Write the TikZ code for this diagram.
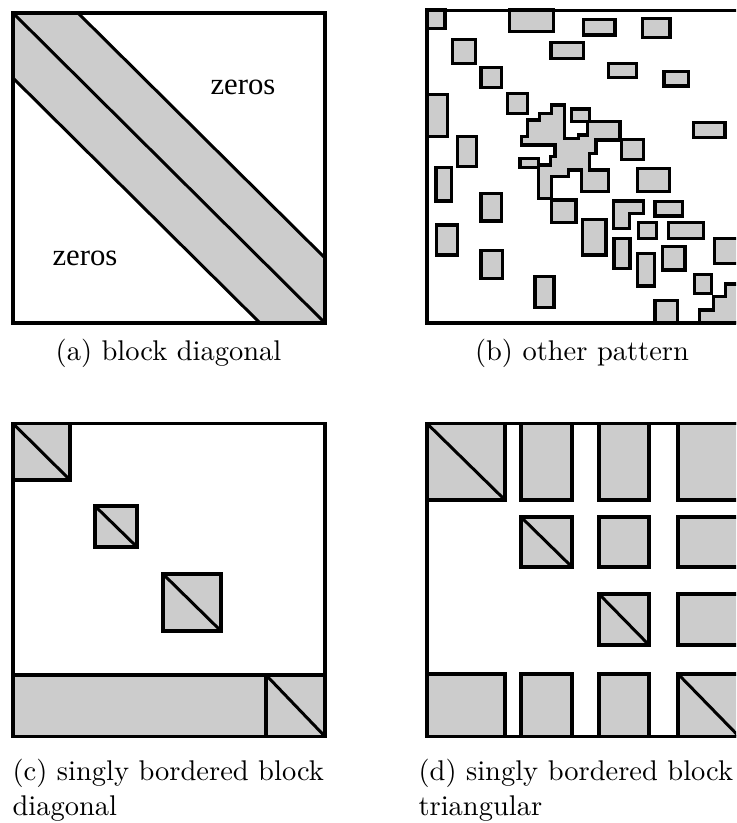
\documentclass[tikz,border=0pt]{standalone}
\usepackage{fontspec}
\newfontfamily\zfont{Liberation Serif}
\begin{document}
\begin{tikzpicture}[x=0.351pt,y=-0.351pt,
  gbox/.style={fill=black!20,draw=black,line width=1.25pt,line join=miter},
  frm/.style={draw=black,line width=1.3pt},
  dline/.style={draw=black,line width=1.05pt},
  captxt/.style={font=\fontsize{10}{12}\selectfont,inner sep=0pt,anchor=base},
  zlab/.style={font=\zfont\fontsize{10.8}{13}\selectfont,inner sep=0pt}]
\useasboundingbox (0,0) rectangle (736,823);
\clip (0,0) rectangle (736,823);

% ---------- (a) block diagonal ----------
\fill[black!20] (13,13) -- (78,13) -- (325,258) -- (325,323) -- (260,323) -- (13,78) -- cycle;
\draw[dline] (78,13) -- (325,258);
\draw[dline] (13,13) -- (325,323);
\draw[dline] (13,78) -- (260,323);
\draw[frm] (13,13) rectangle (325,323);
\node[zlab] (za) at (243,87) {zeros};
\node[zlab] (zb) at (85,258) {zeros};

% ---------- (b) other pattern ----------
\foreach \a/\b/\c/\d in {
  426.7/10/445/28.3, 509.3/10/553.3/31.7, 583.3/19.3/615/35, 642.7/18.3/670/37.3,
  452.3/39.3/475.7/63.3, 551/42.7/583.3/58.3, 608.3/63.3/636.7/77.7, 481/67.3/501.7/87.7,
  664/71.7/688.3/86, 426.7/94.3/447.7/136.7, 507.3/93.3/527.7/113.3, 693.3/122.3/725/137.7,
  457.7/136.7/476.7/166.7, 436/167.7/451.7/201, 481/193.3/501.7/221, 436.7/225/457.7/255,
  481/250.7/502.7/278.3, 535/276.7/554/307.3, 621.7/139.3/643.3/159.3, 637.3/168.7/669.3/191.7,
  551.7/200/576/222.7, 582.7/219.3/606/255, 655/201.7/682.3/216, 638.3/222.7/656.7/238.3,
  668.3/222.7/703.3/238.3, 614/238.3/630/268.3, 637.3/253.3/654.3/286, 662.7/246.7/685/270,
  714.3/238.3/745/263.3, 694.3/274.3/711.7/293.3, 655/300.7/677.3/322.7,
  571.7/109/589.3/121.7}
  {\draw[gbox] (\a,\b) rectangle (\c,\d);}
% L-shaped block
\draw[gbox] (613.3,201) -- (643.3,201) -- (643.3,213.3) -- (629.3,213.3) -- (629.3,228.3) -- (613.3,228.3) -- cycle;
% staircase in the corner
\draw[gbox] (699.3,322.7) -- (699.3,310) -- (713.3,310) -- (713.3,296.7) -- (725.7,296.7) -- (725.7,284) -- (745,284) -- (745,322.7) -- cycle;
% irregular cluster
\draw[gbox] (551.7,105) -- (564.3,105) -- (564.3,138.3) -- (578.3,138.3) -- (578.3,135) -- (587.7,135)
  -- (587.7,121.7) -- (620,121.7) -- (620,140) -- (596,140) -- (596,153.3) -- (589.3,153.3)
  -- (589.3,170) -- (608.3,170) -- (608.3,191.7) -- (581.7,191.7) -- (581.7,170) -- (568.3,170)
  -- (568.3,176.7) -- (551.7,176.7) -- (551.7,198.3) -- (538.3,198.3) -- (538.3,165)
  -- (550.7,165) -- (550.7,156.7) -- (555,156.7) -- (555,145) -- (521.7,145) -- (521.7,136.7)
  -- (527.3,136.7) -- (527.3,120) -- (539.3,120) -- (539.3,113.3) -- (551.7,113.3) -- cycle;
\draw[gbox] (520,158.3) rectangle (538.3,167.7);
\draw[frm] (427,10.5) rectangle (739,322.7);

% ---------- (c) singly bordered block diagonal ----------
\draw[frm] (13,423.5) rectangle (325,736.5);
\foreach \a/\b/\c/\d in {13/423.5/70/480, 95/506/137/547, 163/574/221/631, 266/675/325/736.5}
  {\draw[gbox] (\a,\b) rectangle (\c,\d); \draw[dline] (\a,\b) -- (\c,\d);}
\draw[gbox] (13,675) rectangle (266,736.5);

% ---------- (d) singly bordered block triangular ----------
\draw[frm] (427,423.5) rectangle (739,736.5);
\foreach \a/\b/\c/\d in {
  427/423.5/505/500, 521/423.5/572/500, 599/423.5/649/500, 678/423.5/739/500,
  521/517/572/567, 599/517/649/567, 678/517/739/567,
  599/594/649/645, 678/594/739/645,
  427/674/505/736.5, 521/674/572/736.5, 599/674/649/736.5, 678/674/739/736.5}
  {\draw[gbox] (\a,\b) rectangle (\c,\d);}
\foreach \a/\b/\c/\d in {427/423.5/505/500, 521/517/572/567, 599/594/649/645, 678/674/739/736.5}
  {\draw[dline] (\a,\b) -- (\c,\d);}

% ---------- captions ----------
\node[captxt] (capa) at (168.5,360) {(a) block diagonal};
\node[captxt] (capb) at (582,360) {(b) other pattern};
\node[captxt,anchor=base west] (capc1) at (12,780) {(c) singly bordered block};
\node[captxt,anchor=base west] (capc2) at (12,815) {diagonal};
\node[captxt,anchor=base west] (capd1) at (418,780) {(d) singly bordered block};
\node[captxt,anchor=base west] (capd2) at (418,815) {triangular};
\end{tikzpicture}
\end{document}
